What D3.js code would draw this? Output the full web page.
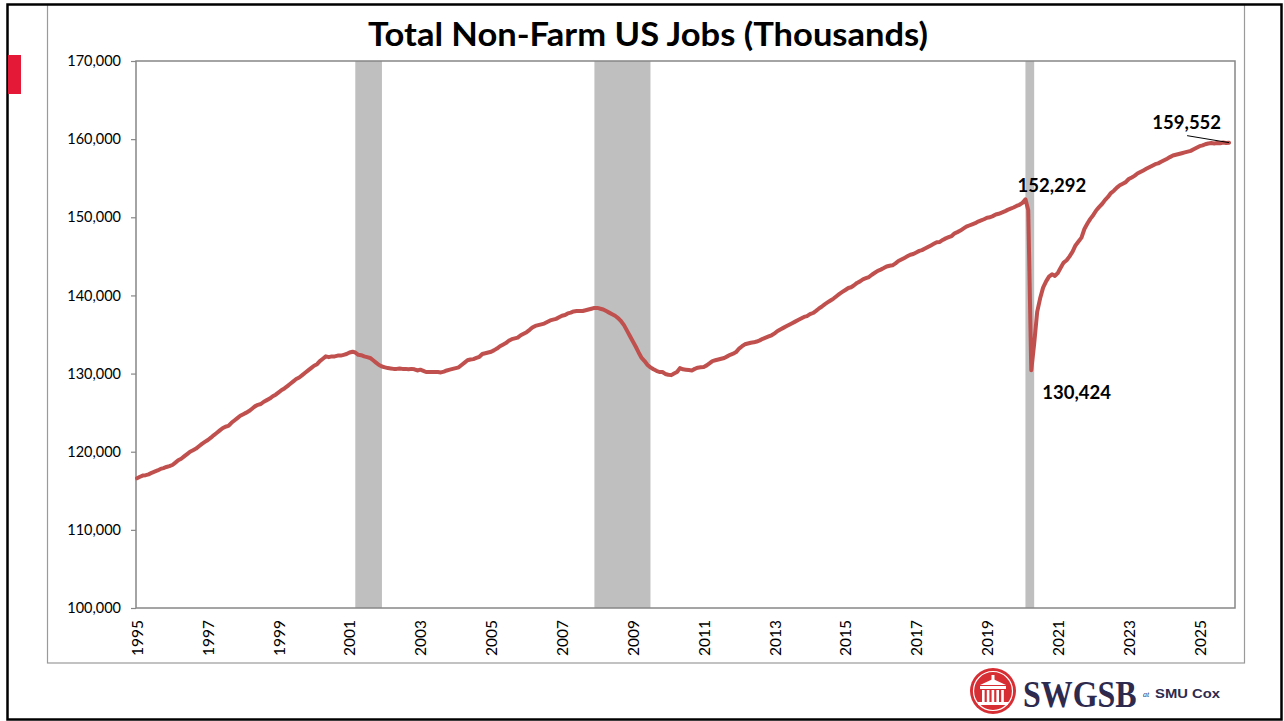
<!DOCTYPE html>
<html>
<head>
<meta charset="utf-8">
<script src="https://cdn.jsdelivr.net/npm/d3@7"></script>
<style>
  html, body { margin: 0; padding: 0; background: #fff; }
  svg { display: block; font-family: Lato, "Open Sans", sans-serif; }
</style>
</head>
<body>
<svg id="chart" width="1284" height="721"></svg>
<script>
// ---- data (millions of jobs, monthly, seasonally adjusted) ----
const firstMonth = "1995-01-01";

const jobs1995to2004 = [
  116.6, 116.8, 116.95, 117.0, 117.1, 117.3, 117.45, 117.6, 117.8, 117.9, 118.05, 118.15,
  118.3, 118.6, 118.9, 119.1, 119.4, 119.7, 120.0, 120.2, 120.4, 120.7, 121.0, 121.25,
  121.5, 121.8, 122.1, 122.4, 122.7, 123.0, 123.2, 123.3, 123.7, 124.0, 124.3, 124.6,
  124.8, 125.0, 125.2, 125.5, 125.8, 126.0, 126.1, 126.4, 126.6, 126.8, 127.1, 127.3,
  127.6, 127.9, 128.1, 128.4, 128.7, 129.0, 129.3, 129.5, 129.8, 130.1, 130.4, 130.7,
  131.0, 131.2, 131.6, 131.9, 132.2, 132.1, 132.2, 132.2, 132.3, 132.3, 132.4, 132.5,
  132.7, 132.8, 132.7, 132.4, 132.35, 132.2, 132.1, 132.0, 131.7, 131.4, 131.1, 130.9,
  130.8, 130.7, 130.65, 130.6, 130.6, 130.65, 130.6, 130.6, 130.55, 130.6, 130.55, 130.4,
  130.5, 130.35, 130.2, 130.2, 130.2, 130.2, 130.2, 130.15, 130.25, 130.4, 130.5, 130.6,
  130.7, 130.8, 131.1, 131.4, 131.7, 131.8, 131.85, 132.0, 132.15, 132.5, 132.6, 132.7
];

const jobs2005to2014 = [
  132.8, 133.0, 133.2, 133.5, 133.7, 133.9, 134.2, 134.4, 134.5, 134.6, 134.9, 135.1,
  135.3, 135.6, 135.9, 136.1, 136.2, 136.3, 136.4, 136.6, 136.8, 136.9, 137.0, 137.2,
  137.4, 137.5, 137.7, 137.8, 137.95, 138.0, 138.0, 138.0, 138.1, 138.2, 138.3, 138.4,
  138.4, 138.3, 138.2, 138.0, 137.8, 137.6, 137.4, 137.1, 136.7, 136.2, 135.5, 134.8,
  134.1, 133.4, 132.7, 132.0, 131.6, 131.1, 130.8, 130.55, 130.35, 130.2, 130.2, 129.95,
  129.85, 129.8, 130.0, 130.2, 130.7, 130.55, 130.5, 130.45, 130.4, 130.6, 130.75, 130.8,
  130.85, 131.05, 131.3, 131.6, 131.7, 131.8, 131.9, 132.0, 132.2, 132.4, 132.55, 132.75,
  133.2, 133.5, 133.75, 133.85, 133.95, 134.0, 134.1, 134.25, 134.45, 134.6, 134.75, 134.9,
  135.15, 135.45, 135.65, 135.85, 136.05, 136.25, 136.45, 136.65, 136.85, 137.05, 137.25, 137.35,
  137.6, 137.75, 138.0, 138.3, 138.55, 138.85, 139.1, 139.35, 139.6, 139.9, 140.2, 140.45
];

const jobs2015to2025 = [
  140.7, 140.95, 141.05, 141.3, 141.6, 141.8, 142.05, 142.2, 142.35, 142.65, 142.9, 143.15,
  143.3, 143.5, 143.7, 143.8, 143.85, 144.1, 144.4, 144.6, 144.8, 145.0, 145.2, 145.3,
  145.5, 145.7, 145.8, 146.0, 146.2, 146.4, 146.6, 146.8, 146.85, 147.1, 147.3, 147.45,
  147.6, 147.95, 148.1, 148.3, 148.55, 148.8, 148.95, 149.1, 149.25, 149.45, 149.6, 149.75,
  149.95, 150.0, 150.15, 150.35, 150.45, 150.6, 150.75, 150.95, 151.1, 151.25, 151.45, 151.6,
  151.85, 152.292, 150.9, 130.424, 133.8, 137.9, 139.6, 141.0, 141.8, 142.4, 142.7, 142.5,
  142.9, 143.6, 144.2, 144.5, 145.0, 145.6, 146.4, 146.9, 147.4, 148.5, 149.2, 149.8,
  150.3, 150.9, 151.3, 151.7, 152.2, 152.6, 153.1, 153.4, 153.8, 154.1, 154.3, 154.5,
  154.9, 155.1, 155.3, 155.6, 155.8, 156.0, 156.2, 156.4, 156.6, 156.8, 156.9, 157.1,
  157.3, 157.5, 157.7, 157.9, 158.0, 158.1, 158.2, 158.3, 158.4, 158.5, 158.7, 158.9,
  159.1, 159.2, 159.35, 159.45, 159.5, 159.45, 159.5, 159.48, 159.56, 159.5, 159.552
];

// NBER recessions
const recessions = [
  ["2001-03-01", "2001-12-01"],
  ["2007-12-01", "2009-07-01"],
  ["2020-02-01", "2020-05-01"]
];

const yTicks = [100000, 110000, 120000, 130000, 140000, 150000, 160000, 170000];
const xTickYears = d3.range(1995, 2026, 2);

// labelled points
const callouts = [
  { date: "2020-02-01", value: 152292 },
  { date: "2020-04-01", value: 130424 },
  { date: "2025-11-01", value: 159552 }
];

// ---- build series ----
const parse = d3.utcParse("%Y-%m-%d");
const allJobs = [...jobs1995to2004, ...jobs2005to2014, ...jobs2015to2025];
const start = parse(firstMonth);
const series = allJobs.map((v, i) => ({ date: d3.utcMonth.offset(start, i), value: v * 1000 }));

// ---- layout ----
const svg = d3.select("#chart");
const plot = { left: 136, top: 61, right: 1235, bottom: 608 };

const x = d3.scaleUtc()
  .domain([parse("1995-01-01"), parse("2026-01-01")])
  .range([plot.left + 1, plot.right]);

const y = d3.scaleLinear()
  .domain([100000, 170000])
  .range([plot.bottom, plot.top]);

// outer frame + chart area frame
svg.append("rect")
  .attr("x", 47.5).attr("y", 4.5)
  .attr("width", 1197).attr("height", 658.5)
  .attr("fill", "none").attr("stroke", "#9a9a9a").attr("stroke-width", 1.2);

svg.append("rect")
  .attr("x", 7.5).attr("y", 4.5)
  .attr("width", 1274).attr("height", 715)
  .attr("fill", "none").attr("stroke", "#000").attr("stroke-width", 2.5);

svg.append("rect")
  .attr("x", 8).attr("y", 55)
  .attr("width", 13).attr("height", 39)
  .attr("fill", "#E31937");

// title
svg.append("text")
  .attr("x", 648).attr("y", 46)
  .attr("text-anchor", "middle")
  .attr("font-size", 32).attr("font-weight", 700)
  .attr("textLength", 560).attr("lengthAdjust", "spacingAndGlyphs")
  .attr("fill", "#000")
  .text("Total Non-Farm US Jobs (Thousands)");

// recession bands
svg.append("g").selectAll("rect")
  .data(recessions)
  .join("rect")
  .attr("x", d => x(parse(d[0])))
  .attr("width", d => x(parse(d[1])) - x(parse(d[0])))
  .attr("y", plot.top)
  .attr("height", plot.bottom - plot.top)
  .attr("fill", "#BFBFBF");

// plot border
svg.append("rect")
  .attr("x", plot.left).attr("y", plot.top)
  .attr("width", plot.right - plot.left).attr("height", plot.bottom - plot.top)
  .attr("fill", "none").attr("stroke", "#878787").attr("stroke-width", 1.5);

// y axis
const yAxis = svg.append("g")
  .attr("transform", `translate(${plot.left},0)`)
  .call(d3.axisLeft(y).tickValues(yTicks).tickFormat(d3.format(",")).tickSize(5).tickPadding(10));
yAxis.select(".domain").remove();
yAxis.selectAll(".tick line").attr("stroke", "#878787").attr("stroke-width", 1.2);
yAxis.selectAll(".tick text")
  .style("font-family", "Lato, sans-serif").style("font-size", "14.5px").attr("fill", "#000");

// x axis labels (rotated)
const xAxis = svg.append("g")
  .attr("transform", `translate(0,${plot.bottom})`)
  .call(d3.axisBottom(x)
    .tickValues(xTickYears.map(yr => parse(`${yr}-01-01`)))
    .tickFormat(d3.utcFormat("%Y"))
    .tickSize(0).tickPadding(0));
xAxis.select(".domain").remove();
xAxis.selectAll(".tick text")
  .style("font-family", "Lato, sans-serif").style("font-size", "15.5px").attr("fill", "#000")
  .attr("text-anchor", "end")
  .attr("transform", "translate(0,12) rotate(-90)")
  .attr("x", 0).attr("y", 0).attr("dy", "0.35em");

// jobs line
const line = d3.line()
  .x(d => x(d.date))
  .y(d => y(d.value));

svg.append("path")
  .datum(series)
  .attr("d", line)
  .attr("fill", "none")
  .attr("stroke", "#C0504D")
  .attr("stroke-width", 4)
  .attr("stroke-linejoin", "round")
  .attr("stroke-linecap", "round");

// callouts
const fmt = d3.format(",");
const offsets = [
  { dx: -8, dy: -7, anchor: "start" },
  { dx: 11, dy: 29, anchor: "start" },
  { dx: -8, dy: -14, anchor: "end" }
];
callouts.forEach((c, i) => {
  const px = x(parse(c.date));
  const py = y(c.value);
  const o = offsets[i];
  svg.append("text")
    .attr("x", px + o.dx).attr("y", py + o.dy)
    .attr("text-anchor", o.anchor)
    .attr("font-size", 18.5).attr("font-weight", 700).attr("fill", "#000")
    .text(fmt(c.value));
  if (i === 2) {
    svg.append("line")
      .attr("x1", px - 42).attr("y1", py - 7)
      .attr("x2", px).attr("y2", py)
      .attr("stroke", "#000").attr("stroke-width", 1);
  }
});

// logo
const logo = svg.append("g").attr("transform", "translate(993,691)");
logo.append("circle").attr("r", 23).attr("fill", "#D62E33");
logo.append("circle").attr("r", 19.5).attr("fill", "none").attr("stroke", "#fff").attr("stroke-width", 1.2);
logo.append("rect").attr("x", -1.5).attr("y", -16).attr("width", 3).attr("height", 5).attr("fill", "#fff");
logo.append("path").attr("d", "M-13,-6 L0,-12 L13,-6 Z").attr("fill", "#fff");
logo.append("rect").attr("x", -13).attr("y", -5).attr("width", 26).attr("height", 3).attr("fill", "#fff");
d3.range(5).forEach(k => {
  logo.append("rect").attr("x", -11 + k * 4.8).attr("y", -1).attr("width", 2.6).attr("height", 12).attr("fill", "#fff");
});
logo.append("rect").attr("x", -15).attr("y", 11).attr("width", 30).attr("height", 3).attr("fill", "#fff");

svg.append("g")
  .attr("transform", "translate(1023,707) scale(0.94,1.1)")
  .append("text")
  .style("font-family", "'Liberation Serif', 'DejaVu Serif', serif")
  .style("font-size", "34px").style("font-weight", 700)
  .attr("fill", "#2D2A4E")
  .text("SWGSB");
svg.append("text")
  .attr("x", 1143).attr("y", 697)
  .style("font-family", "'Liberation Serif', serif")
  .style("font-size", "8px").style("font-style", "italic")
  .attr("fill", "#2D2A4E")
  .text("at");
svg.append("text")
  .attr("x", 1155).attr("y", 698)
  .style("font-family", "'Liberation Sans', Arial, sans-serif")
  .style("font-size", "13px").style("font-weight", 700)
  .attr("textLength", 65).attr("lengthAdjust", "spacingAndGlyphs")
  .attr("fill", "#2D2A4E")
  .text("SMU Cox");
</script>
</body>
</html>
